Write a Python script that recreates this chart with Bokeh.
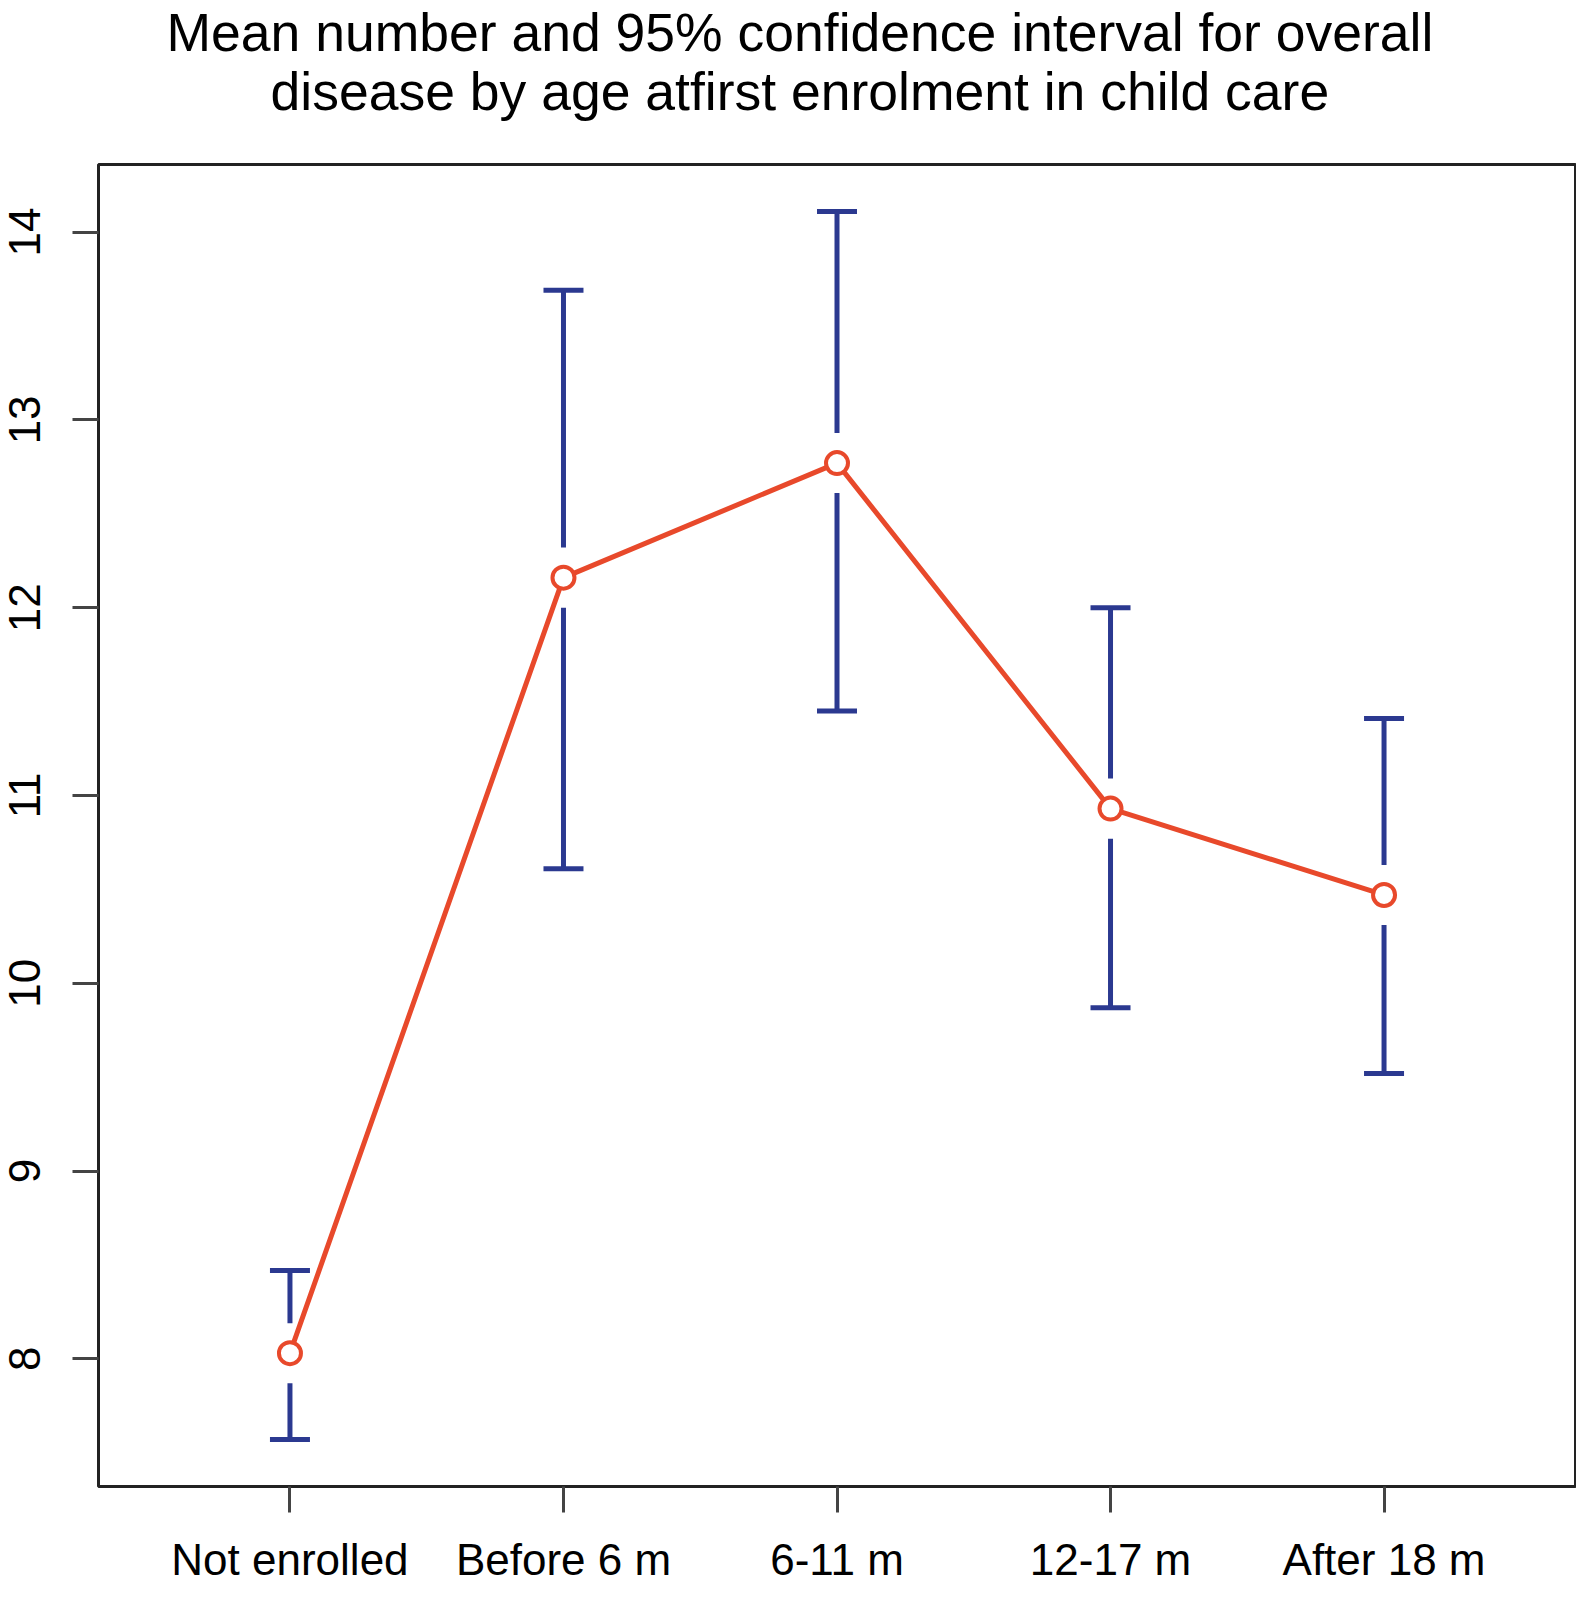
import numpy as np
from bokeh.plotting import figure
from bokeh.models import Range1d, FixedTicker, Title
from bokeh.embed import file_html
from bokeh.resources import INLINE

# ---- data ----
categories = ["Not enrolled", "Before 6 m", "6-11 m", "12-17 m", "After 18 m"]
positions = [1, 2, 3, 4, 5]
means = [8.03, 12.16, 12.77, 10.93, 10.47]
upper = [8.47, 13.69, 14.11, 12.00, 11.41]
lower = [7.57, 10.61, 11.45, 9.87, 9.52]
y_ticks = [8, 9, 10, 11, 12, 13, 14]
title_lines = ["Mean number and 95% confidence interval for overall",
               "disease by age atfirst enrolment in child care"]

BLUE = "#2B3990"
RED = "#E8492B"
FONT = "Liberation Sans"

p = figure(width=1576, height=1600, output_backend="svg", toolbar_location=None,
           x_range=Range1d(0.3, 5.7), y_range=Range1d(7.32, 14.36),
           min_border_left=98, min_border_right=1, min_border_top=164,
           min_border_bottom=114)
p.background_fill_color = "white"
p.border_fill_color = "white"
p.outline_line_color = "#222222"
p.outline_line_width = 3
p.grid.visible = False

x = np.array(positions, dtype=float)
m = np.array(means)
gap = 0.16

# error bars with a gap around the mean
p.segment(x0=x, y0=m + gap, x1=x, y1=np.array(upper), line_color=BLUE, line_width=5)
p.segment(x0=x, y0=np.array(lower), x1=x, y1=m - gap, line_color=BLUE, line_width=5)
p.scatter(x=x, y=upper, marker="dash", size=40, line_color=BLUE, line_width=5)
p.scatter(x=x, y=lower, marker="dash", size=40, line_color=BLUE, line_width=5)

# mean line and points
p.line(x=x, y=m, line_color=RED, line_width=5)
p.scatter(x=x, y=m, marker="circle", size=22, line_color=RED, line_width=4,
          fill_color="white")

# axes
xa = p.xaxis[0]
xa.ticker = FixedTicker(ticks=positions)
xa.major_label_overrides = {pos: c for pos, c in zip(positions, categories)}
ya = p.yaxis[0]
ya.ticker = FixedTicker(ticks=y_ticks)
ya.major_label_orientation = "vertical"
for ax in (xa, ya):
    ax.axis_line_color = None
    ax.minor_tick_line_color = None
    ax.major_tick_line_color = "#444444"
    ax.major_tick_line_width = 3
    ax.major_tick_in = 0
    ax.major_tick_out = 26
    ax.major_label_text_font = FONT
    ax.major_label_text_font_size = "44px"
    ax.major_label_text_color = "black"
xa.major_label_standoff = 22
ya.major_label_standoff = 32


def set_standoff(t, v):
    try:
        t.standoff = v
    except Exception:
        t.standoff = 0


# spacer between the frame and the title (nearest the frame)
spacer = Title(text=" ", align="left", text_font=FONT, text_font_size="1px",
               text_color="white")
set_standoff(spacer, 43)
p.add_layout(spacer, "above")

# two-line title (second line added first: it sits nearer the frame)
t2 = Title(text=title_lines[1], align="left", offset=172,
           text_font=FONT, text_font_size="53.5px", text_font_style="normal",
           text_color="black")
set_standoff(t2, -5)
p.add_layout(t2, "above")
t1 = Title(text=title_lines[0], align="left", offset=68,
           text_font=FONT, text_font_size="53.5px", text_font_style="normal",
           text_color="black")
set_standoff(t1, 1)
p.add_layout(t1, "above")

open("out.html", "w").write(file_html(p, INLINE))
